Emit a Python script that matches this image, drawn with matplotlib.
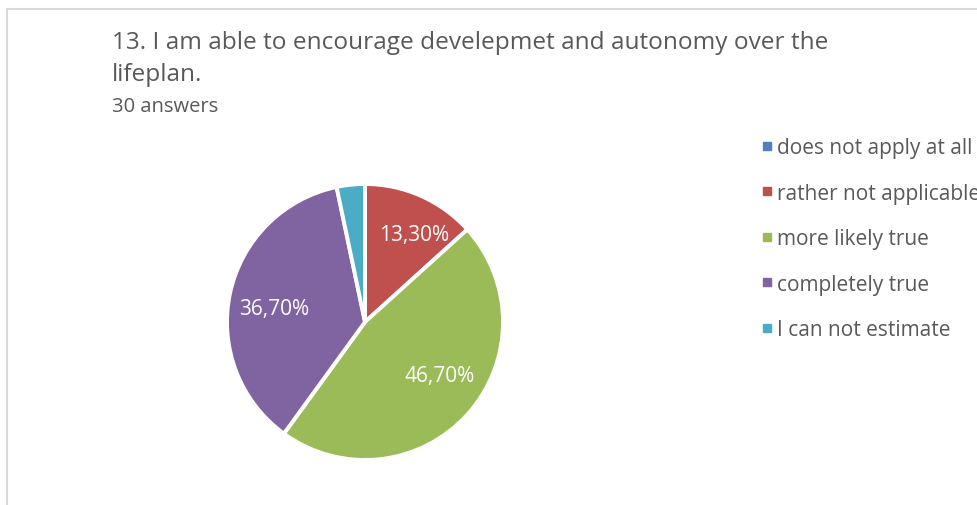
import matplotlib.pyplot as plt
from matplotlib.patches import Rectangle
from matplotlib.lines import Line2D

plt.rcParams['font.family'] = ['Open Sans', 'DejaVu Sans']

# survey answers, in percent
categories = ['does not apply at all', 'rather not applicable', 'more likely true',
              'completely true', 'I can not estimate']
shares = [0.0, 13.3, 46.7, 36.7, 3.3]
colors = ['#4f81bd', '#c0504d', '#9bbb59', '#8064a2', '#4bacc6']

title_line1 = '13. I am able to encourage develepmet and autonomy over the'
title_line2 = 'lifeplan.'
subtitle = '30 answers'

W, H = 977, 506
fig = plt.figure(figsize=(W / 100, H / 100), dpi=100)

# light frame round the chart area
fig.patches.append(Rectangle((7 / W, -0.1), 1.2, 1.1 - 9.5 / H, transform=fig.transFigure,
                             fill=False, edgecolor='#d9d9d9', linewidth=1.5))

txt_color = '#595959'
fig.text(112 / W, 1 - 49 / H, title_line1, fontsize=17.6, color=txt_color, va='baseline')
fig.text(112 / W, 1 - 81 / H, title_line2, fontsize=17.6, color=txt_color, va='baseline')
fig.text(112 / W, 1 - 112 / H, subtitle, fontsize=14.5, color=txt_color, va='baseline')


def pct_label(p):
    if p < 5:
        return ''
    return f'{p:.2f}%'.replace('.', ',')


# pie: centre (365, 323) px, radius 138 px
cx, cy, r = 365, 323, 138
ax = fig.add_axes([(cx - r) / W, 1 - (cy + r) / H, 2 * r / W, 2 * r / H])
wedges, _, autotexts = ax.pie(shares, colors=colors, startangle=90, counterclock=False,
                              autopct=pct_label, pctdistance=0.72,
                              wedgeprops=dict(edgecolor='white', linewidth=2.8),
                              textprops=dict(color='white', fontsize=15))
for w in wedges:
    w.set_clip_on(False)
ax.set_xlim(-1, 1)
ax.set_ylim(-1, 1)
ax.set_aspect('equal')

# small nudges of the value labels (in px), best-fit style placement
nudge = {1: (9, -3), 2: (1, 13), 3: (6, -7)}
for i, (dx, dy) in nudge.items():
    x, y = autotexts[i].get_position()
    autotexts[i].set_position((x + dx / r, y + dy / r))

# square legend keys
handles = [Line2D([], [], marker='s', linestyle='', color=c, markersize=5.8) for c in colors]
fig.legend(handles, categories, loc='upper left', bbox_to_anchor=(762 / W, 1 - 138 / H),
           frameon=False, fontsize=15, labelcolor=txt_color,
           borderpad=0, borderaxespad=0,
           handlelength=0.5, handletextpad=0.22, labelspacing=1.18)

fig.savefig('out.png', dpi=100)
